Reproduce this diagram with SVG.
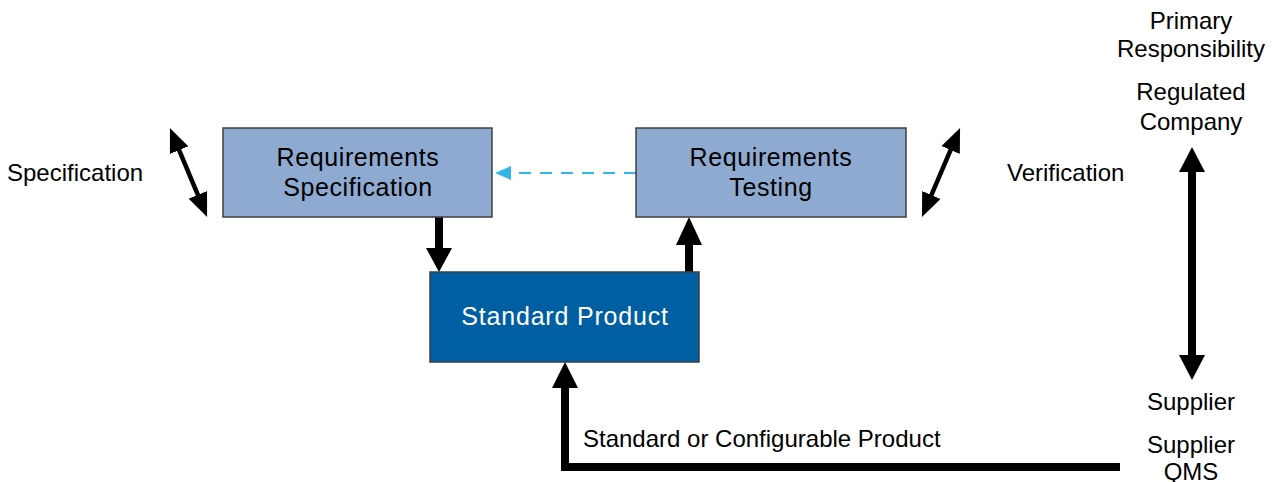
<svg xmlns="http://www.w3.org/2000/svg" width="1280" height="482" viewBox="0 0 1280 482">
<style>
text{font-family:"Liberation Sans",Arial,sans-serif;fill:#000}
.lbl{font-size:24px}
.bx{font-size:25px;text-anchor:middle;letter-spacing:0.6px}
.light{fill:#8FAAD1;stroke:#3F3F3F;stroke-width:1.5}
.dark{fill:#005EA2;stroke:#3F3F3F;stroke-width:1.5}
.shaft{stroke:#000;stroke-width:8;fill:none}
.diag{stroke:#000;stroke-width:4.5;fill:none}
.head{fill:#000}
</style>
<defs>
<marker id="dh" markerUnits="userSpaceOnUse" markerWidth="24" markerHeight="20" viewBox="0 0 24 20" refX="2" refY="10" orient="auto-start-reverse">
<path d="M0,0 L24,10 L0,20 z" fill="#000"/>
</marker>
<marker id="bh" markerUnits="userSpaceOnUse" markerWidth="16" markerHeight="14" viewBox="0 0 16 14" refX="2" refY="7" orient="auto">
<path d="M0,0 L16,7 L0,14 z" fill="#33B5E5"/>
</marker>
</defs>
<g id="connectors">
<line class="diag" x1="178.4" y1="148.3" x2="198.6" y2="196.7" marker-start="url(#dh)" marker-end="url(#dh)"/>
<line class="diag" x1="951.4" y1="148.2" x2="930.6" y2="196.8" marker-start="url(#dh)" marker-end="url(#dh)"/>
<line x1="636" y1="173" x2="509" y2="173" stroke="#33B5E5" stroke-width="2" stroke-dasharray="12,9" marker-end="url(#bh)"/>
<line class="shaft" x1="439" y1="217" x2="439" y2="250"/>
<polygon class="head" points="426,248 452,248 439,272"/>
<line class="shaft" x1="689" y1="272" x2="689" y2="243"/>
<polygon class="head" points="676,245 702,245 689,217"/>
<path class="shaft" d="M1120,467 H565 V386"/>
<polygon class="head" points="552,388 578,388 565,362"/>
<line class="shaft" x1="1192" y1="170" x2="1192" y2="357"/>
<polygon class="head" points="1179,172 1205,172 1192,147"/>
<polygon class="head" points="1179,355 1205,355 1192,380"/>
</g>
<g id="req-spec">
<rect class="light" x="223" y="128" width="269" height="89"/>
<text class="bx" x="358" y="166">Requirements</text>
<text class="bx" x="358" y="196">Specification</text>
</g>
<g id="req-test">
<rect class="light" x="636" y="128" width="270" height="89"/>
<text class="bx" x="771" y="166">Requirements</text>
<text class="bx" x="771" y="196">Testing</text>
</g>
<g id="std-product">
<rect class="dark" x="430" y="272" width="269" height="90"/>
<text class="bx" x="565" y="325" style="fill:#fff;letter-spacing:0.8px">Standard Product</text>
</g>
<g id="labels">
<text class="lbl" x="7" y="181">Specification</text>
<text class="lbl" x="1007" y="181">Verification</text>
<text class="lbl" x="583" y="447">Standard or Configurable Product</text>
<text class="lbl" x="1191" y="29" text-anchor="middle">Primary</text>
<text class="lbl" x="1191" y="57" text-anchor="middle">Responsibility</text>
<text class="lbl" x="1191" y="100" text-anchor="middle">Regulated</text>
<text class="lbl" x="1191" y="130" text-anchor="middle">Company</text>
<text class="lbl" x="1191" y="410" text-anchor="middle">Supplier</text>
<text class="lbl" x="1191" y="453" text-anchor="middle">Supplier</text>
<text class="lbl" x="1191" y="480" text-anchor="middle">QMS</text>
</g>
</svg>
